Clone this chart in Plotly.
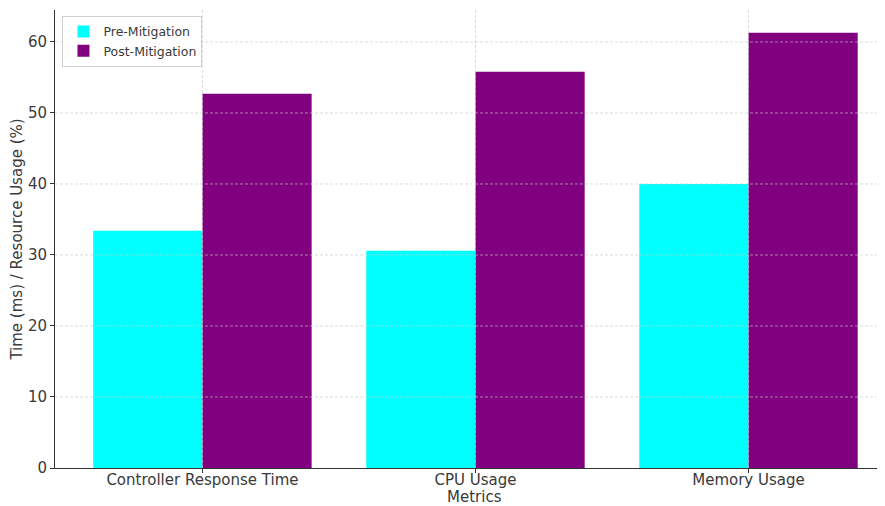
import plotly.graph_objects as go

categories = ["Controller Response Time", "CPU Usage", "Memory Usage"]
pre_values = [33.4, 30.6, 40.0]
post_values = [52.7, 55.8, 61.3]
y_ticks = [0, 10, 20, 30, 40, 50, 60]

font_family = "DejaVu Sans"
text_color = "#3a3a3a"

fig = go.Figure()
fig.add_trace(go.Bar(x=categories, y=pre_values, name="Pre-Mitigation",
                     marker=dict(color="#00FFFF", line=dict(width=0))))
fig.add_trace(go.Bar(x=categories, y=post_values, name="Post-Mitigation",
                     marker=dict(color="#800080", line=dict(width=0))))

grid_line = dict(color="rgba(200,200,200,0.8)", width=0.8, dash="3px,2px")
for t in y_ticks[1:]:
    fig.add_shape(type="line", xref="paper", yref="y", x0=0, x1=1, y0=t, y1=t,
                  line=grid_line, layer="above")
for c in categories:
    fig.add_shape(type="line", xref="x", yref="paper", x0=c, x1=c, y0=0, y1=1,
                  line=grid_line, layer="above")

fig.add_annotation(text="Metrics", xref="paper", yref="paper", x=0.505, y=0,
                   yshift=-29, xanchor="center", yanchor="middle", showarrow=False,
                   font=dict(size=15, color=text_color, family=font_family))

fig.update_layout(
    width=877, height=498,
    margin=dict(l=47, r=0, t=2, b=38, autoexpand=False),
    paper_bgcolor="white", plot_bgcolor="white",
    barmode="group", bargap=0.2, bargroupgap=0,
    font=dict(family=font_family, size=15, color=text_color),
    showlegend=True,
    legend=dict(x=0.009, y=0.987, xanchor="left", yanchor="top",
                bgcolor="rgba(255,255,255,0.85)", bordercolor="#d0d0d0", borderwidth=1,
                font=dict(size=12.5, color=text_color), tracegroupgap=0),
)
fig.update_xaxes(
    range=[-0.54, 2.5], showgrid=False, showline=True, linecolor="#333", linewidth=1,
    ticks="outside", ticklen=4, tickcolor="#333", mirror=False, automargin=False,
    ticklabelstandoff=-6,
    tickfont=dict(size=15),
)
fig.update_yaxes(
    range=[0, 64.5], tickvals=y_ticks, showgrid=False, showline=True, linecolor="#333", linewidth=1,
    ticks="outside", ticklen=4, tickcolor="#333", zeroline=False, automargin=False,
    title=dict(text="Time (ms) / Resource Usage (%)", standoff=6, font=dict(size=15)),
    tickfont=dict(size=15),
)

fig.write_html("out.html")
